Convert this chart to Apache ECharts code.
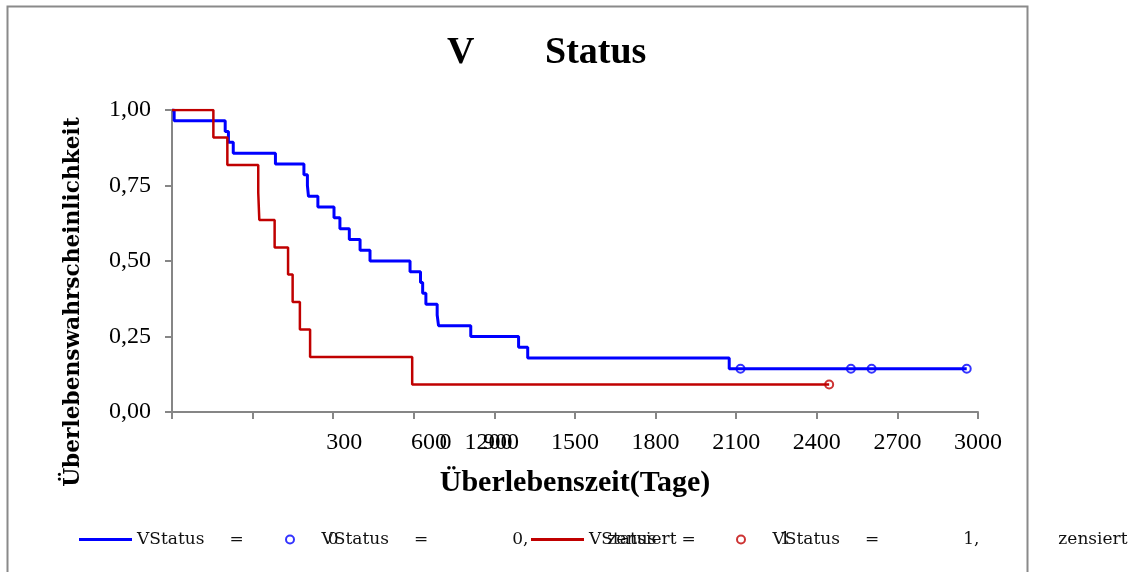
<!DOCTYPE html>
<html>
<head>
<meta charset="utf-8">
<script src="https://cdn.jsdelivr.net/npm/echarts@6/dist/echarts.min.js"></script>
<style>
  html, body { margin: 0; padding: 0; background: #fff; }
  #chart { width: 1133px; height: 572px; }
</style>
</head>
<body>
<div id="chart"></div>
<script>
// Kaplan-Meier Schätzer
const blueTimes = [0, 8, 198, 210, 228, 385, 491, 504, 508, 543, 603, 625, 660, 700, 737, 886, 925, 933, 945, 987, 992, 1112, 1290, 1324, 2074, 2958];
const blueSurv = [1.000, 0.964, 0.929, 0.893, 0.857, 0.821, 0.786, 0.750, 0.714, 0.679, 0.643, 0.607, 0.571, 0.536, 0.500, 0.464, 0.429, 0.393, 0.357, 0.321, 0.286, 0.250, 0.214, 0.179, 0.143, 0.143];
const blueCensTimes = [2116, 2527, 2604, 2958];
const blueCensSurv = [0.143, 0.143, 0.143, 0.143];

const redTimes = [0, 154, 206, 321, 325, 382, 432, 449, 476, 514, 894, 2446];
const redSurv = [1.000, 0.909, 0.818, 0.727, 0.636, 0.545, 0.455, 0.364, 0.273, 0.182, 0.091, 0.091];
const redCensTimes = [2446];
const redCensSurv = [0.091];

const seriesNames = ["VStatus = 0", "VStatus = 0, zensiert", "VStatus = 1", "VStatus = 1, zensiert"];

const yTickLabels = ["0,00", "0,25", "0,50", "0,75", "1,00"];
const xTickValues = [0, 300, 600, 900, 1200, 1500, 1800, 2100, 2400, 2700, 3000];
// die Beschriftungen stehen im Original verschoben
const xLabelText = ["0", "300", "600", "900", "1200", "1500", "1800", "2100", "2400", "2700", "3000"];
const xLabelPos = [1018, 641, 957, 1225, 1178, 1500, 1800, 2100, 2400, 2700, 3000];

function pairs(xs, ys) {
  return xs.map((x, i) => [x, ys[i]]);
}

// Legendentext wie im Original weit auseinandergezogen
function legendText(name) {
  const m = name.match(/^(\S+) = (\d)(,?)\s*(.*)$/);
  let s = "{t|" + m[1] + "}{g1| }{t|=}{g2| }{t|" + m[2] + m[3] + "}";
  if (m[4]) s += "{g3| }{t|" + m[4] + "}";
  return s;
}

const legendRich = {
  t: { fontFamily: "DejaVu Serif", fontSize: 17, color: "#111" },
  g1: { width: 25 },
  g2: { width: 84 },
  g3: { width: 79 }
};

function makeLegend(name, left, color, isCircle) {
  return {
    data: [name],
    left: left,
    top: 531,
    padding: 0,
    itemWidth: 53,
    itemHeight: isCircle ? 8 : 3,
    icon: isCircle ? "emptyCircle" : "rect",
    itemStyle: isCircle
      ? { color: color, borderColor: color, borderWidth: 2 }
      : { color: color, borderWidth: 0 },
    lineStyle: { width: 0 },
    formatter: legendText,
    selectedMode: false,
    textStyle: {
      fontFamily: "DejaVu Serif",
      fontSize: 17,
      color: "#111",
      rich: legendRich
    }
  };
}

const chart = echarts.init(document.getElementById("chart"));

const option = {
  backgroundColor: "#fff",
  animation: false,
  title: {
    text: "{v|V}{s|Status}",
    left: 447,
    top: 34,
    padding: 0,
    textStyle: {
      fontFamily: "Liberation Serif",
      fontWeight: "bold",
      fontSize: 38,
      color: "#000",
      rich: {
        v: { width: 98, fontFamily: "Liberation Serif", fontWeight: "bold", fontSize: 38, color: "#000" },
        s: { fontFamily: "Liberation Serif", fontWeight: "bold", fontSize: 38, color: "#000" }
      }
    }
  },
  legend: [
    makeLegend(seriesNames[0], 79, "#0000ff", false),
    makeLegend(seriesNames[1], 285, "#0000ff", true),
    makeLegend(seriesNames[2], 531, "#c00000", false),
    makeLegend(seriesNames[3], 736, "#c00000", true)
  ],
  graphic: [{
    type: "rect",
    z: -10,
    silent: true,
    shape: { x: 7.5, y: 6.5, width: 1020, height: 620 },
    style: { fill: "none", stroke: "#8a8a8a", lineWidth: 2 }
  }],
  grid: { left: 172, right: 155, top: 110, bottom: 160 },
  xAxis: {
    type: "value",
    min: 0,
    max: 3000,
    interval: 300,
    name: "Überlebenszeit(Tage)",
    nameLocation: "middle",
    nameGap: 56,
    nameTextStyle: {
      fontFamily: "Liberation Serif",
      fontWeight: "bold",
      fontSize: 30,
      color: "#000"
    },
    axisLine: { lineStyle: { color: "#868686", width: 2 } },
    axisTick: { length: 7, customValues: xTickValues, lineStyle: { color: "#868686", width: 2 } },
    splitLine: { show: false },
    axisLabel: {
      customValues: xLabelPos,
      formatter: function (v) {
        const i = xLabelPos.indexOf(v);
        return i >= 0 ? xLabelText[i] : "";
      },
      margin: 19,
      fontFamily: "Liberation Serif",
      fontSize: 24,
      color: "#000"
    }
  },
  yAxis: {
    type: "value",
    min: 0,
    max: 1,
    interval: 0.25,
    name: "Überlebenswahrscheinlichkeit",
    nameLocation: "middle",
    nameGap: 88,
    nameTextStyle: {
      fontFamily: "DejaVu Serif",
      fontWeight: "bold",
      fontSize: 21.7,
      color: "#000",
      padding: [0, 82, 0, 0]
    },
    axisLine: { show: true, lineStyle: { color: "#868686", width: 2 } },
    axisTick: { show: true, length: 7, lineStyle: { color: "#868686", width: 2 } },
    splitLine: { show: false },
    axisLabel: {
      formatter: function (v, i) { return yTickLabels[i]; },
      margin: 21,
      fontFamily: "Liberation Serif",
      fontSize: 24,
      color: "#000"
    }
  },
  series: [
    {
      name: seriesNames[0],
      type: "line",
      step: "end",
      symbol: "none",
      color: "#0000ff",
      lineStyle: { color: "#0000ff", width: 3 },
      data: pairs(blueTimes, blueSurv)
    },
    {
      name: seriesNames[1],
      type: "scatter",
      symbol: "emptyCircle",
      symbolSize: 8,
      color: "#0000ff",
      itemStyle: { color: "#0000ff", borderColor: "#0000ff", borderWidth: 2 },
      data: pairs(blueCensTimes, blueCensSurv)
    },
    {
      name: seriesNames[2],
      type: "line",
      step: "end",
      symbol: "none",
      color: "#c00000",
      lineStyle: { color: "#c00000", width: 2.5 },
      data: pairs(redTimes, redSurv)
    },
    {
      name: seriesNames[3],
      type: "scatter",
      symbol: "emptyCircle",
      symbolSize: 8,
      color: "#c00000",
      itemStyle: { color: "#c00000", borderColor: "#c00000", borderWidth: 2 },
      data: pairs(redCensTimes, redCensSurv)
    }
  ]
};

option && chart.setOption(option);
</script>
</body>
</html>
